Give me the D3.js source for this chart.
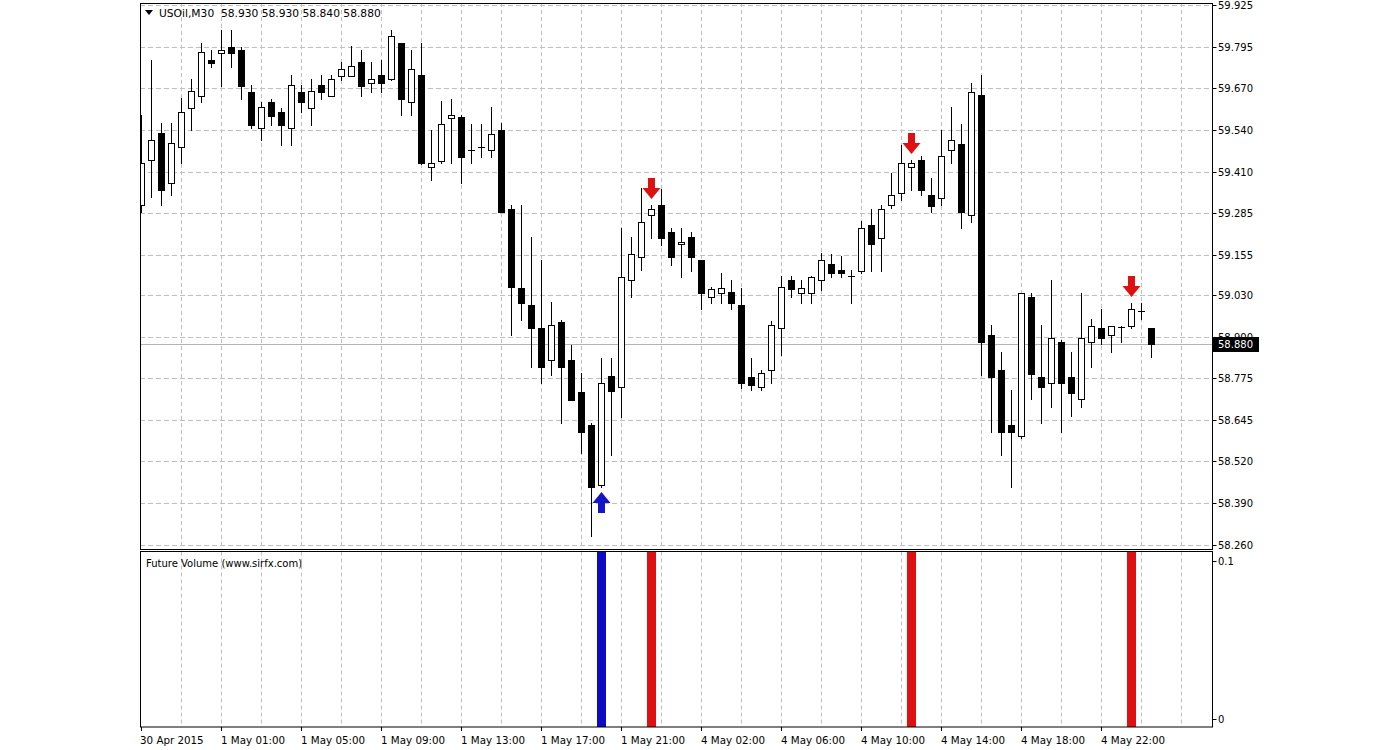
<!DOCTYPE html>
<html><head><meta charset="utf-8">
<script src="https://cdn.jsdelivr.net/npm/d3@7"></script>
<style>
html,body{margin:0;padding:0;background:#fff;}
svg{display:block;}
text{font-family:"DejaVu Sans",Verdana,sans-serif;}
</style></head>
<body>
<svg id="chart" width="1400" height="750"></svg>
<script>
// ---------- data ----------
const symbolName = "USOil,M30";
const indicatorName = "Future Volume (www.sirfx.com)";
const timeLabels = ["30 Apr 2015","1 May 01:00","1 May 05:00","1 May 09:00","1 May 13:00","1 May 17:00","1 May 21:00","4 May 02:00","4 May 06:00","4 May 10:00","4 May 14:00","4 May 18:00","4 May 22:00"];
const priceTicks = [59.925,59.795,59.670,59.540,59.410,59.285,59.155,59.030,58.900,58.775,58.645,58.520,58.390,58.260];
const volumeTicks = [0.1, 0];

const opens = [59.308,59.447,59.530,59.376,59.487,59.607,59.644,59.755,59.777,59.795,
59.786,59.657,59.546,59.626,59.595,59.546,59.657,59.607,59.678,59.644,
59.706,59.706,59.749,59.684,59.709,59.697,59.808,59.626,59.709,59.426,
59.444,59.577,59.580,59.478,59.487,59.478,59.540,59.296,59.052,59.000,
58.929,58.830,58.948,58.830,58.732,58.630,58.445,58.781,58.747,59.077,
59.148,59.278,59.308,59.225,59.188,59.210,59.139,59.025,59.037,59.040,
59.000,58.778,58.747,58.800,58.929,59.077,59.037,59.037,59.077,59.126,
59.108,59.089,59.105,59.247,59.207,59.308,59.345,59.426,59.447,59.339,
59.330,59.478,59.496,59.278,59.647,58.908,58.800,58.630,58.596,59.025,
58.778,58.760,58.886,58.778,58.710,58.886,58.929,58.908,58.932,58.935,
58.982,58.930];
const highs = [59.586,59.755,59.561,59.561,59.638,59.697,59.808,59.786,59.848,59.848,
59.795,59.678,59.626,59.635,59.607,59.709,59.678,59.697,59.709,59.709,
59.749,59.799,59.786,59.749,59.755,59.848,59.808,59.786,59.808,59.540,
59.629,59.635,59.586,59.558,59.558,59.610,59.561,59.308,59.308,59.210,
59.139,59.009,58.954,58.877,58.790,58.636,58.837,58.837,59.238,59.210,
59.361,59.308,59.358,59.238,59.238,59.225,59.139,59.056,59.099,59.077,
59.052,58.837,58.800,58.950,59.089,59.089,59.077,59.089,59.160,59.157,
59.151,59.108,59.259,59.296,59.308,59.407,59.493,59.447,59.459,59.392,
59.540,59.610,59.558,59.684,59.709,58.938,58.855,58.738,59.037,59.037,
58.938,59.077,58.892,58.855,59.037,58.957,58.988,58.935,58.935,59.006,
59.006,58.930];
const lows = [59.287,59.333,59.308,59.339,59.438,59.540,59.626,59.734,59.675,59.734,
59.635,59.546,59.509,59.555,59.493,59.493,59.595,59.555,59.635,59.644,
59.694,59.706,59.644,59.657,59.657,59.694,59.586,59.586,59.435,59.385,
59.438,59.438,59.376,59.438,59.456,59.456,59.287,58.908,58.954,58.809,
58.760,58.784,58.636,58.707,58.544,58.288,58.439,58.538,58.655,59.025,
59.108,59.207,59.185,59.123,59.086,59.105,58.988,59.006,59.006,58.988,
58.744,58.738,58.738,58.760,58.846,59.025,59.006,59.006,59.046,59.086,
59.086,59.006,59.099,59.105,59.105,59.299,59.324,59.355,59.339,59.287,
59.308,59.438,59.238,59.256,58.784,58.608,58.538,58.439,58.590,58.710,
58.636,58.686,58.608,58.658,58.686,58.809,58.880,58.855,58.886,58.929,
58.957,58.840];
const closes = [59.438,59.509,59.355,59.500,59.595,59.660,59.780,59.746,59.786,59.777,
59.675,59.555,59.610,59.583,59.555,59.678,59.626,59.660,59.657,59.697,
59.728,59.737,59.675,59.697,59.684,59.829,59.635,59.728,59.438,59.438,
59.558,59.586,59.456,59.479,59.487,59.527,59.287,59.056,59.006,58.929,
58.809,58.938,58.809,58.707,58.608,58.439,58.760,58.735,59.086,59.157,
59.256,59.296,59.207,59.148,59.194,59.148,59.037,59.049,59.052,59.006,
58.760,58.753,58.790,58.938,59.056,59.049,59.052,59.086,59.139,59.099,
59.099,59.089,59.238,59.188,59.296,59.339,59.438,59.438,59.355,59.305,
59.459,59.509,59.287,59.657,58.886,58.778,58.608,58.608,59.037,58.787,
58.747,58.898,58.760,58.729,58.898,58.935,58.898,58.935,58.932,58.988,
58.982,58.880];

const signalBars = [46, 51, 77, 99];
const signalTypes = ["buy", "sell", "sell", "sell"];
const signalVolumes = [0.11, 0.11, 0.11, 0.11];
const currentPrice = 58.880;

// ---------- layout ----------
const L = 140, R = 1212, T = 3, B1 = 549, T2 = 551.5, B2 = 727;
const n = opens.length;
const svg = d3.select("#chart");

const x = d3.scaleLinear().domain([0, n - 1]).range([141, 141 + 10 * (n - 1)]);
const y = d3.scaleLinear().domain([58.260, 59.925]).range([545, 5]);
const vy = d3.scaleLinear().domain([0, 0.1]).range([719, 561]);

const gridColor = "#c0c0c0";

// clip paths
const defs = svg.append("defs");
defs.append("clipPath").attr("id","c1").append("rect").attr("x",L).attr("y",T).attr("width",R-L).attr("height",B1-T);
defs.append("clipPath").attr("id","c2").append("rect").attr("x",L).attr("y",T2).attr("width",R-L).attr("height",B2-T2);

// vertical grid (every 4 bars)
const gridIdx = d3.range(4, 200, 4).filter(i => x(i) < R);
[[T, B1], [T2, B2]].forEach(([a, b]) => {
  svg.append("g").selectAll("line").data(gridIdx).join("line")
    .attr("x1", i => Math.round(x(i)) + 0.5).attr("x2", i => Math.round(x(i)) + 0.5)
    .attr("y1", a).attr("y2", b)
    .attr("stroke", gridColor).attr("stroke-dasharray", "4,3");
});
// horizontal grid
svg.append("g").selectAll("line").data(priceTicks).join("line")
  .attr("x1", L).attr("x2", R)
  .attr("y1", d => Math.round(y(d)) + 0.5).attr("y2", d => Math.round(y(d)) + 0.5)
  .attr("stroke", gridColor).attr("stroke-dasharray", "5,3");

// current price line
svg.append("line").attr("x1", L).attr("x2", R)
  .attr("y1", Math.round(y(currentPrice)) + 0.5).attr("y2", Math.round(y(currentPrice)) + 0.5)
  .attr("stroke", "#b4b4b4");

// candles
const bars = d3.range(n).map(i => ({i, o: opens[i], h: highs[i], l: lows[i], c: closes[i]}));
const cg = svg.append("g").attr("clip-path", "url(#c1)");
bars.forEach(d => {
  const cx = Math.round(x(d.i));
  const yh = Math.round(y(d.h)), yl = Math.round(y(d.l));
  const yo = Math.round(y(d.o)), yc = Math.round(y(d.c));
  cg.append("line").attr("x1", cx + 0.5).attr("x2", cx + 0.5).attr("y1", yh).attr("y2", yl + 1)
    .attr("stroke", "#000");
  const top = Math.min(yo, yc), bot = Math.max(yo, yc);
  if (bot - top < 1) {
    cg.append("line").attr("x1", cx - 3).attr("x2", cx + 4).attr("y1", top + 0.5).attr("y2", top + 0.5).attr("stroke", "#000");
  } else if (d.c < d.o) {
    cg.append("rect").attr("x", cx - 3).attr("y", top).attr("width", 7).attr("height", bot - top + 1).attr("fill", "#000");
  } else {
    cg.append("rect").attr("x", cx - 2.5).attr("y", top + 0.5).attr("width", 6).attr("height", bot - top)
      .attr("fill", "#fff").attr("stroke", "#000");
  }
});

// signal arrows
const arrowDown = "M-3.5,0 L3.5,0 L3.5,10 L9,10 L0,21 L-9,10 L-3.5,10 Z";
const arrowUp = "M-3.5,21 L3.5,21 L3.5,11 L9,11 L0,0 L-9,11 L-3.5,11 Z";
signalBars.forEach((b, k) => {
  const cx = Math.round(x(b)) + 0.5;
  if (signalTypes[k] === "sell") {
    const yy = Math.round(y(highs[b])) - 27;
    svg.append("path").attr("d", arrowDown).attr("transform", `translate(${cx},${yy})`).attr("fill", "#dd1111");
  } else {
    const yy = Math.round(y(lows[b])) + 5;
    svg.append("path").attr("d", arrowUp).attr("transform", `translate(${cx},${yy})`).attr("fill", "#1515c8");
  }
});

// volume histogram
svg.append("g").attr("clip-path", "url(#c2)").selectAll("rect").data(signalBars).join("rect")
  .attr("x", b => Math.round(x(b)) - 4).attr("width", 9)
  .attr("y", (b, k) => vy(signalVolumes[k])).attr("height", (b, k) => B2 - vy(signalVolumes[k]))
  .attr("fill", (b, k) => signalTypes[k] === "buy" ? "#0b0bc4" : "#dd1111");

// panel borders
svg.append("rect").attr("x", L + 0.5).attr("y", T + 0.5).attr("width", R - L).attr("height", B1 - T).attr("fill", "none").attr("stroke", "#000");
svg.append("rect").attr("x", L + 0.5).attr("y", T2).attr("width", R - L).attr("height", B2 - T2).attr("fill", "none").attr("stroke", "#000");

// price axis
const pa = svg.append("g");
pa.selectAll("line").data(priceTicks).join("line")
  .attr("x1", R + 0.5).attr("x2", R + 4.5)
  .attr("y1", d => Math.round(y(d)) + 0.5).attr("y2", d => Math.round(y(d)) + 0.5).attr("stroke", "#000");
pa.selectAll("text").data(priceTicks).join("text")
  .attr("x", R + 6).attr("y", d => y(d) + 4)
  .attr("font-size", 10).attr("fill", "#000").text(d => d.toFixed(3));

// current price label (drawn over the 58.900 tick label, as in the terminal)
const cpY = Math.round(y(currentPrice));
svg.append("rect").attr("x", R + 1).attr("y", cpY - 7).attr("width", 46).attr("height", 15).attr("fill", "#000");
svg.append("text").attr("x", R + 6).attr("y", cpY + 4).attr("font-size", 10).attr("fill", "#fff").text(currentPrice.toFixed(3));

// volume axis
const va = svg.append("g");
va.selectAll("line").data(volumeTicks).join("line")
  .attr("x1", R + 0.5).attr("x2", R + 4.5)
  .attr("y1", d => Math.round(vy(d)) + 0.5).attr("y2", d => Math.round(vy(d)) + 0.5).attr("stroke", "#000");
va.selectAll("text").data(volumeTicks).join("text")
  .attr("x", R + 6).attr("y", d => vy(d) + 4)
  .attr("font-size", 10).attr("fill", "#000").text(d => String(d));

// time axis
const tIdx = timeLabels.map((t, k) => k * 8);
const ta = svg.append("g");
ta.selectAll("line").data(tIdx).join("line")
  .attr("x1", i => Math.round(x(i)) + 0.5).attr("x2", i => Math.round(x(i)) + 0.5)
  .attr("y1", B2).attr("y2", B2 + 4).attr("stroke", "#000");
ta.selectAll("text").data(tIdx).join("text")
  .attr("x", (i, k) => k === 0 ? L : Math.round(x(i)))
  .attr("y", 744).attr("font-size", 10.3).attr("fill", "#000")
  .text((i, k) => timeLabels[k]);

// titles
svg.append("path").attr("d", "M145,10 L153,10 L149,15 Z").attr("fill", "#000");
const last = n - 1;
svg.append("text").attr("x", 159).attr("y", 17).attr("font-size", 10.7).attr("fill", "#000")
  .attr("xml:space", "preserve")
  .text(`${symbolName}  ${opens[last].toFixed(3)} ${highs[last].toFixed(3)} ${lows[last].toFixed(3)} ${closes[last].toFixed(3)}`);
svg.append("text").attr("x", 146).attr("y", 567).attr("font-size", 10).attr("fill", "#000").text(indicatorName);
</script>
</body></html>
